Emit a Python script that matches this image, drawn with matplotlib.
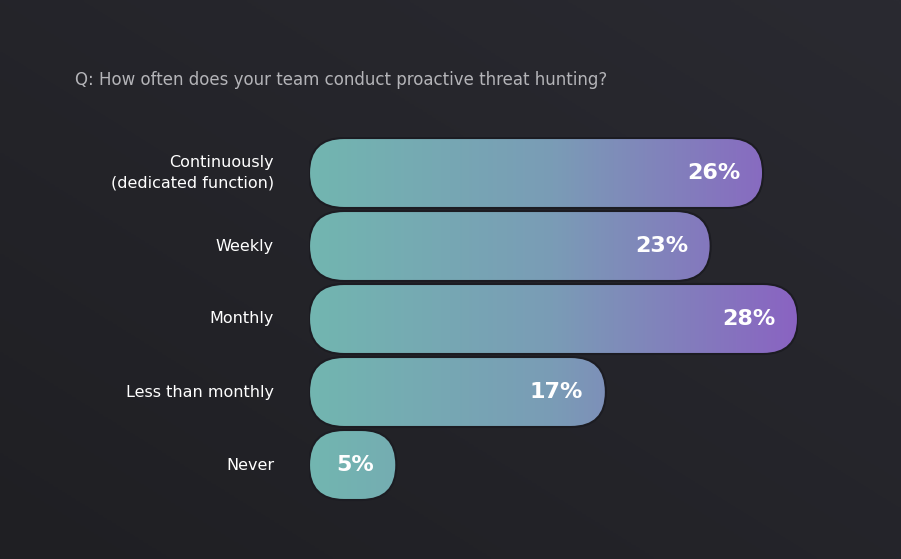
import matplotlib.pyplot as plt
from matplotlib.patches import FancyBboxPatch
from matplotlib.colors import LinearSegmentedColormap
import numpy as np

categories = ["Continuously\n(dedicated function)", "Weekly", "Monthly", "Less than monthly", "Never"]
values = [26, 23, 28, 17, 5]
title = "Q: How often does your team conduct proactive threat hunting?"

W, H = 901, 559
fig = plt.figure(figsize=(W / 100, H / 100), dpi=100)
fig.patch.set_facecolor("#242429")

# background vignette
bg = fig.add_axes([0, 0, 1, 1])
yy, xx = np.mgrid[0:1:200j, 0:1:200j]
bg.imshow(0.5 * xx + 0.5 * (1 - yy), cmap=LinearSegmentedColormap.from_list("bg", ["#1f1f23", "#2a2a31"]),
          extent=[0, 1, 0, 1], aspect="auto")
bg.axis("off")

# axes placed in pixels: x 0..28% -> 309..798 px, 5 rows 73 px each from y=136
x0, x1 = 309, 798
ytop, row = 136.5, 73
ax = fig.add_axes([x0 / W, 1 - (ytop + 5 * row) / H, (x1 - x0) / W, 5 * row / H])
ax.set_xlim(0, 28)
ax.set_ylim(4.5, -0.5)
ax.axis("off")

cmap = LinearSegmentedColormap.from_list("g", ["#72b6b0", "#7a9cb6", "#8a63c2"])
grad = np.linspace(0, 1, 256).reshape(1, -1)
px_x = (x1 - x0) / 28
aspect = (1 / row) / (1 / px_x)
bh = 70 / row
r = 35 / px_x

for i, (cat, v) in enumerate(zip(categories, values)):
    p = FancyBboxPatch((0, i - bh / 2), v, bh, boxstyle=f"round,pad=0,rounding_size={r}",
                       mutation_aspect=aspect, facecolor="none", edgecolor="#1c1c22", lw=1.5, zorder=3)
    ax.add_patch(p)
    im = ax.imshow(grad, cmap=cmap, extent=[0, 28, 4.5, -0.5], aspect="auto", zorder=2)
    im.set_clip_path(p)
    ax.text(v - 1.3, i, f"{v}%", color="white", fontsize=16, fontweight="bold",
            ha="right", va="center", zorder=4)
    ax.text(-2.0, i, cat, color="white", fontsize=11.5, ha="right", va="center",
            linespacing=1.5, clip_on=False)

fig.text(75 / W, 1 - 80 / H, title, color="#b4b4b8", fontsize=12, ha="left", va="center")

fig.savefig("out.png", dpi=100, facecolor=fig.get_facecolor())
